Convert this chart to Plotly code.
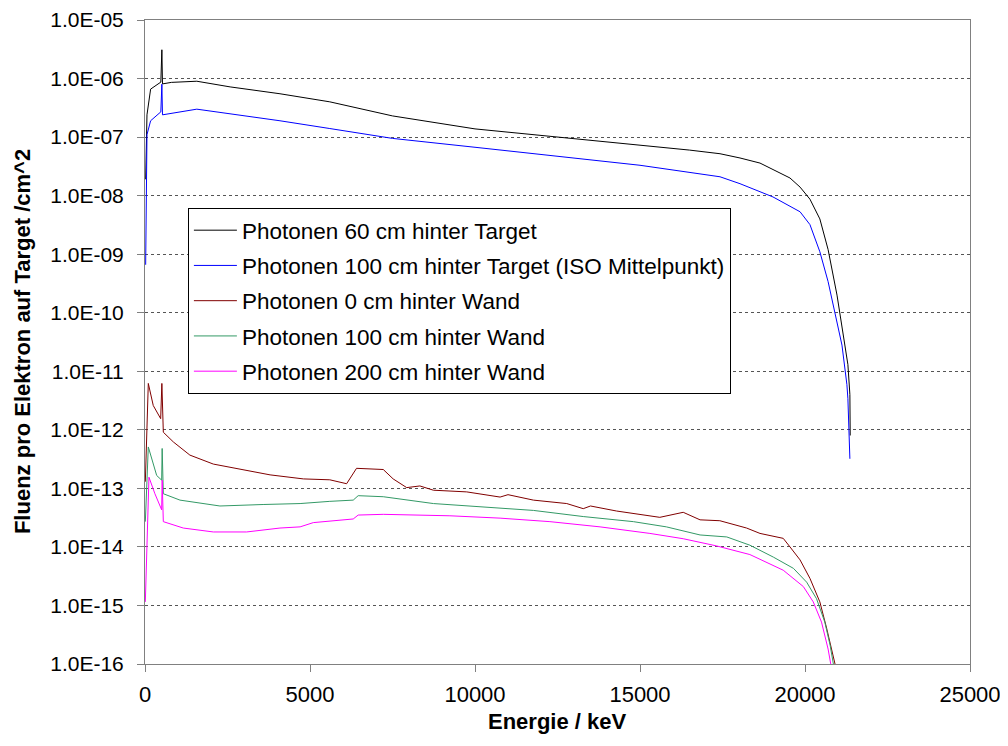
import plotly.graph_objects as go

# ---- data ----
black_e = [20, 60, 170, 480, 511, 530, 800, 1570, 2580, 4090, 5600, 7500, 10000, 12500, 15000,
           16500, 17424, 18030, 18636, 19030, 19545, 19850, 20150, 20450, 20700, 20970, 21120,
           21210, 21300, 21360, 21370]
black_f = [1.9e-8, 2.4e-7, 6.6e-7, 8.7e-7, 3.1e-6, 8.1e-7, 8.6e-7, 9.0e-7, 7.2e-7, 5.5e-7, 4.0e-7,
           2.3e-7, 1.38e-7, 1.0e-7, 7.4e-8, 6.0e-8, 5.2e-8, 4.4e-8, 3.6e-8, 2.8e-8, 2.0e-8, 1.4e-8,
           8.7e-9, 4.0e-9, 1.2e-9, 2.0e-10, 6.1e-11, 2.8e-11, 1.3e-11, 4.0e-12, 8.0e-13]

blue_e = [20, 60, 170, 480, 511, 530, 1570, 2580, 4090, 5600, 7500, 10000, 12500, 15000, 17424,
          18030, 19030, 19850, 20150, 20450, 20700, 20970, 21120, 21270, 21300, 21360]
blue_f = [6.6e-10, 1.1e-7, 1.9e-7, 2.7e-7, 8.0e-7, 2.4e-7, 3.0e-7, 2.5e-7, 1.9e-7, 1.4e-7, 9.5e-8,
          6.7e-8, 4.7e-8, 3.3e-8, 2.1e-8, 1.6e-8, 9.5e-9, 5.3e-9, 3.2e-9, 1.1e-9, 3.4e-10, 7.0e-11,
          2.8e-11, 5.9e-12, 3.4e-12, 3.2e-13]

red_e = [10, 100, 250, 475, 511, 555, 860, 1360, 2070, 2780, 3790, 4800, 5600, 6110, 6410, 7220,
         7520, 7930, 8330, 8740, 9750, 10760, 11000, 11770, 12780, 13280, 13500, 14290, 14800,
         15600, 16310, 16820, 17420, 18230, 18636, 19340, 19545, 19850, 20150, 20450, 20660,
         20810, 20910, 20950]
red_f = [1.3e-13, 6.2e-12, 2.6e-12, 1.55e-12, 6.2e-12, 9.1e-13, 6.2e-13, 3.7e-13, 2.6e-13, 2.2e-13,
         1.7e-13, 1.45e-13, 1.4e-13, 1.2e-13, 2.2e-13, 2.1e-13, 1.45e-13, 1.03e-13, 1.1e-13, 9.3e-14,
         8.7e-14, 7.1e-14, 7.8e-14, 6.3e-14, 5.5e-14, 4.5e-14, 5.0e-14, 4.1e-14, 3.7e-14, 3.2e-14,
         3.9e-14, 2.9e-14, 2.8e-14, 2.1e-14, 1.7e-14, 1.4e-14, 1.0e-14, 6.0e-15, 2.9e-15, 1.15e-15,
         4.0e-16, 1.6e-16, 1.0e-16, 5.0e-17]

green_e = [10, 100, 354, 505, 520, 555, 1060, 2270, 3580, 4700, 5600, 6310, 6460, 7220, 8740,
           10250, 11770, 13280, 14800, 15800, 16820, 17630, 18330, 19040, 19650, 20050, 20350,
           20600, 20760, 20860, 20900]
green_f = [2.7e-14, 5.1e-13, 1.66e-13, 1.38e-13, 4.8e-13, 8.1e-14, 6.3e-14, 5.0e-14, 5.3e-14,
           5.5e-14, 6.0e-14, 6.3e-14, 7.5e-14, 7.2e-14, 5.5e-14, 4.8e-14, 4.2e-14, 3.3e-14, 2.7e-14,
           2.2e-14, 1.6e-14, 1.48e-14, 1.07e-14, 6.7e-15, 4.3e-15, 2.5e-15, 1.3e-15, 5.2e-16,
           2.1e-16, 1.0e-16, 5.0e-17]

mag_e = [10, 120, 300, 505, 520, 555, 1160, 2070, 3080, 4090, 4700, 5100, 6310, 6460, 7220, 9240,
         10760, 12270, 13790, 15300, 16310, 17320, 18330, 19340, 19950, 20250, 20500, 20700,
         20780, 20820]
mag_f = [1.15e-15, 1.55e-13, 8.1e-14, 4.3e-14, 1.38e-13, 2.7e-14, 2.1e-14, 1.8e-14, 1.8e-14,
         2.1e-14, 2.2e-14, 2.6e-14, 3.0e-14, 3.5e-14, 3.6e-14, 3.4e-14, 3.1e-14, 2.7e-14, 2.2e-14,
         1.7e-14, 1.38e-14, 1.04e-14, 7.4e-15, 4.0e-15, 2.1e-15, 1.15e-15, 5.2e-16, 1.8e-16,
         1.0e-16, 5.0e-17]

names = ["Photonen 60 cm hinter Target",
         "Photonen 100 cm hinter Target (ISO Mittelpunkt)",
         "Photonen 0 cm hinter Wand",
         "Photonen 100 cm hinter Wand",
         "Photonen 200 cm hinter Wand"]
colors = ["#000000", "#0000FF", "#800000", "#339966", "#FF00FF"]

y_tickvals = [10.0 ** -k for k in range(16, 4, -1)]
y_ticktext = ["1.0E-%02d" % k for k in range(16, 4, -1)]
x_tickvals = [0, 5000, 10000, 15000, 20000, 25000]
x_ticktext = ["0", "5000", "10000", "15000", "20000", "25000"]

FONT = "Liberation Sans, Arial, sans-serif"

fig = go.Figure()
series = [(black_e, black_f), (blue_e, blue_f), (red_e, red_f), (green_e, green_f), (mag_e, mag_f)]
for i, ((xe, yf), nm, c) in enumerate(zip(series, names, colors)):
    fig.add_trace(go.Scatter(x=xe, y=yf, mode="lines", name=nm, legendgroup=str(i),
                             line=dict(color=c, width=1)))

fig.update_layout(
    width=1008, height=746,
    margin=dict(l=137, r=46, t=12, b=90),
    paper_bgcolor="white", plot_bgcolor="white",
    font=dict(family=FONT, size=21, color="black"),
    showlegend=True,
    legend=dict(x=0.052, y=0.708, xanchor="left", yanchor="top",
                bgcolor="white", bordercolor="black", borderwidth=1,
                font=dict(family=FONT, size=22.5), tracegroupgap=3,
                itemwidth=43),
    xaxis=dict(range=[0, 25000], tickvals=x_tickvals, ticktext=x_ticktext,
               ticks="outside", ticklen=7, automargin=False,
               tickcolor="#808080", showline=True, linecolor="#808080", linewidth=1,
               mirror=True, showgrid=False, zeroline=False, ticklabelstandoff=4,
               ticklabeloverflow="allow",
               tickfont=dict(family=FONT, size=22)),
    yaxis=dict(type="log", range=[-16.00001, -4.99999], tickvals=y_tickvals, ticktext=y_ticktext,
               ticks="outside", ticklen=7, tickcolor="#808080", showline=True, automargin=False,
               linecolor="#808080", linewidth=1, mirror=True,
               showgrid=True, gridcolor="#555555", gridwidth=1, griddash="3px,3px",
               zeroline=False, ticklabelstandoff=9, ticklabeloverflow="allow",
               tickfont=dict(family=FONT, size=21)),
    annotations=[
        dict(text="<b>Energie / keV</b>", xref="paper", yref="paper", x=0.5, y=-0.09,
             xanchor="center", yanchor="middle", showarrow=False,
             font=dict(family=FONT, size=22)),
        dict(text="<b>Fluenz pro Elektron auf Target /cm^2</b>", xref="paper", yref="paper",
             x=-0.149, y=0.5, xanchor="center", yanchor="middle", textangle=-90,
             showarrow=False, font=dict(family=FONT, size=22)),
    ],
)

fig.write_html("out.html")
